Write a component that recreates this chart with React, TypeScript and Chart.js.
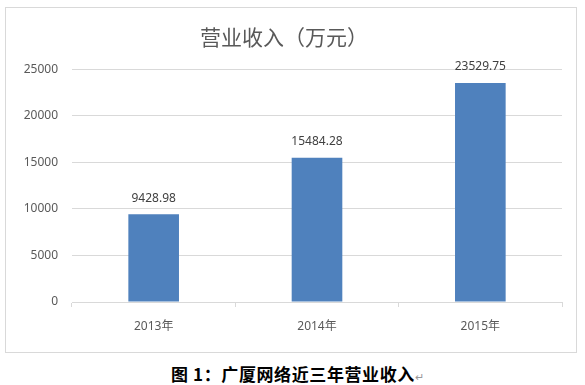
import React, { useEffect, useRef } from "react";
import { Chart, registerables } from "chart.js";

Chart.register(...registerables);

const categories = ["2013年", "2014年", "2015年"];
const revenue = [9428.98, 15484.28, 23529.75];
const yTicks = [0, 5000, 10000, 15000, 20000, 25000];
const chartTitle = "营业收入（万元）";
const caption = "图 1：广厦网络近三年营业收入";

const FONT = "'Noto Sans', 'Noto Sans CJK SC', sans-serif";

const labelPlugin = {
  id: "barValueLabels",
  afterDatasetsDraw(chart: any) {
    const ctx = chart.ctx;
    const meta = chart.getDatasetMeta(0);
    ctx.save();
    ctx.font = `12px ${FONT}`;
    ctx.fillStyle = "#404040";
    ctx.textAlign = "center";
    ctx.textBaseline = "middle";
    meta.data.forEach((bar: any, i: number) => {
      ctx.fillText(revenue[i].toFixed(2), bar.x, bar.y - 16);
    });
    ctx.restore();
  },
};

export default function App() {
  const ref = useRef<HTMLCanvasElement | null>(null);

  useEffect(() => {
    if (!ref.current) return;
    const chart = new Chart(ref.current, {
      type: "bar",
      data: {
        labels: categories,
        datasets: [
          {
            data: revenue,
            backgroundColor: "#4F81BD",
            borderWidth: 0,
            categoryPercentage: 1,
            barPercentage: 0.31,
          },
        ],
      },
      options: {
        responsive: false,
        animation: false,
        layout: { padding: { left: 0, right: 14, top: 0, bottom: 0 } },
        plugins: {
          legend: { display: false },
          tooltip: { enabled: false },
          title: {
            display: true,
            text: chartTitle,
            color: "#595959",
            font: { size: 21, family: "'Noto Sans CJK SC', sans-serif", weight: "normal" },
            padding: { top: 16, bottom: 20 },
          },
        },
        scales: {
          x: {
            offset: true,
            grid: {
              offset: true,
              drawOnChartArea: false,
              drawTicks: true,
              tickLength: 5,
              color: "#d9d9d9",
            },
            border: { display: true, color: "#d9d9d9" },
            ticks: {
              color: "#595959",
              font: { size: 12, family: FONT },
              padding: 12,
            },
            afterFit(scale: any) {
              scale.height = 50;
            },
          },
          y: {
            min: 0,
            max: 25000,
            afterBuildTicks(scale: any) {
              scale.ticks = yTicks.map((v) => ({ value: v }));
            },
            grid: { color: "#d9d9d9", drawTicks: false },
            border: { display: false },
            ticks: {
              color: "#595959",
              font: { size: 12, family: FONT },
              padding: 14,
              callback: (v: any) => String(v),
            },
            afterFit(scale: any) {
              scale.width = 66;
            },
          },
        },
      },
      plugins: [labelPlugin],
    });
    return () => chart.destroy();
  }, []);

  return (
    <div style={{ position: "absolute", left: 0, top: 0, width: 585, height: 385, background: "#fff" }}>
      <div
        style={{
          position: "absolute",
          left: 5,
          top: 7,
          width: 570,
          height: 344,
          border: "1px solid #d9d9d9",
        }}
      >
        <canvas ref={ref} width={570} height={344} style={{ display: "block" }} />
      </div>
      <div
        style={{
          position: "absolute",
          left: 171,
          top: 363,
          fontFamily: "'Noto Sans CJK SC', sans-serif",
          fontWeight: 700,
          fontSize: 17,
          lineHeight: "22px",
          letterSpacing: "0.6px",
          color: "#000",
          whiteSpace: "nowrap",
        }}
      >
        {caption}
        <span style={{ fontWeight: 400, fontSize: 11, color: "#999", letterSpacing: 0 }}>↵</span>
      </div>
    </div>
  );
}
